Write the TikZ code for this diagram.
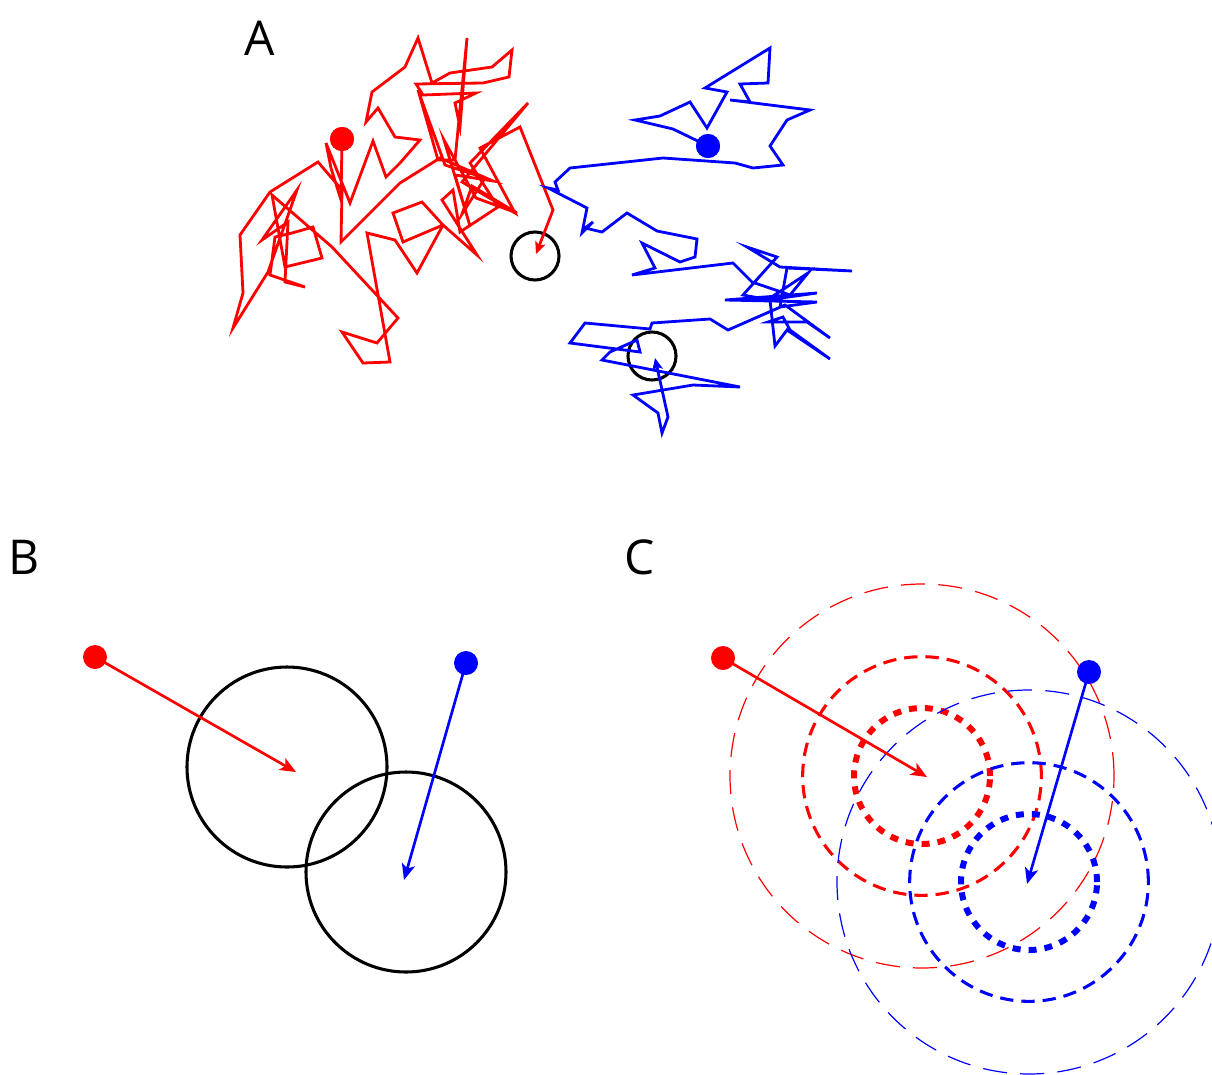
\documentclass[tikz,border=0pt]{standalone}
\usepackage{fontspec}
\setsansfont{Open Sans}
\usepackage{tikz}
\usetikzlibrary{arrows.meta}
\tikzset{
  panel/.style={font=\sffamily\fontsize{36}{40}\selectfont, inner sep=0pt},
  reddot/.style={circle, fill=red, inner sep=0pt, minimum size=18pt},
  bluedot/.style={circle, fill=blue, inner sep=0pt, minimum size=18pt},
  walk/.style={line width=2.1pt, -{Stealth[length=9pt,width=8pt,inset=2pt]}},
  jump/.style={line width=2pt, -{Stealth[length=12pt,width=10pt,inset=3pt]}},
  hitring/.style={circle, draw=black, line width=2.3pt, inner sep=0pt, minimum size=36pt},
  reach/.style={circle, draw=black, line width=2.3pt, inner sep=0pt, minimum size=150pt},
  ringfar/.style={circle, draw, line width=0.9pt, dash pattern=on 18pt off 10pt, inner sep=0pt, minimum size=288pt},
  ringmid/.style={circle, draw, line width=2.3pt, dash pattern=on 10pt off 6pt, inner sep=0pt, minimum size=179pt},
  ringnear/.style={circle, draw, line width=4.5pt, dash pattern=on 6pt off 6pt, inner sep=0pt, minimum size=102pt}
}
\begin{document}
\begin{tikzpicture}[x=0.75pt, y=-0.75pt]
  \useasboundingbox (0,0) rectangle (1212,1074);

  \node[panel] (labA) at (260,38) {A};
  \node[panel] (labB) at (24,557) {B};
  \node[panel] (labC) at (640,557) {C};

  % A: two walks until they come close
  \node[hitring] (ringAr) at (535,256) {};
  \node[hitring] (ringAb) at (652,356) {};
  \coordinate (tipAr) at (536,254);
  \coordinate (tipAb) at (655,358);
  \node[reddot] (dotAr) at (342,139) {};
  \node[bluedot] (dotAb) at (708,146) {};

  \draw[walk, red] (dotAr.center) \foreach \x/\y in {341/200,331/168,326/143,350/203,373/141,386/177,400/163,420/140,395/137,378/108,366/122,372/92,405/67,418/38,432/83,450/73,492/67,512/50,509/77,483/83,416/84,423/95,476/93,455/103,460/127,467/38,455/160,438/160,418/90,445/165,485/178,462/214,472/186,517/213,476/198,444/140,470/226,455/175,493/181,440/158,400/183,341/242,342/190,318/162,270/192,240/235,243/293,233/328,268/272,297/190,262/240,288/222,285/282,305/287,270/275,275/237,292/233,313/227,322/258,285/267,272/195,332/247,398/318,377/343,342/332,363/363,390/362,367/233,395/240,417/273,443/225,422/202,393/213,403/242,443/225,477/255,442/200,453/190,460/232,498/207,470/163,528/103,462/182,515/213,480/148,520/127,553/210} { -- (\x,\y) } -- (tipAr);

  \draw[walk, blue] (dotAb.center) \foreach \x/\y in {673/129,635/120,660/116,690/102,707/128,727/92,705/88,770/48,768/83,740/84,750/102,730/100,810/110,787/120,770/146,783/165,753/168,735/163,663/158,570/168,555/182,558/190,548/188,587/208,582/233,593/222,585/228,602/232,627/213,657/231,697/239,695/257,680/262,642/243,655/268,632/275,733/263,752/282,790/295,808/273,767/300,817/293,725/300,817/302,780/307,787/268,852/271,780/267,747/247,777/257,743/295,770/300,775/346,787/330,830/359,790/330,783/317,768/322,807/322,830/338,785/305,728/330,710/319,652/323,650/329,585/323,570/343,640/352,637/340,610/352,602/360,740/387,693/385,633/395,658/413,662/433,668/417} { -- (\x,\y) } -- (tipAb);
  \node[reddot] at (dotAr) {};
  \node[bluedot] at (dotAb) {};

  % B: one jump each
  \node[reach] (reachBr) at (287,767) {};
  \node[reach] (reachBb) at (406,872) {};
  \node[reddot] (dotBr) at (95,657) {};
  \node[bluedot] (dotBb) at (466,663) {};
  \coordinate (tipBr) at (296,772);
  \coordinate (tipBb) at (404,880);
  \draw[jump, red] (dotBr.center) -- (tipBr);
  \draw[jump, blue] (dotBb.center) -- (tipBb);

  % C: rings round the jump ends
  \node[ringfar, red] (farCr) at (922,776) {};
  \node[ringmid, red] (midCr) at (922,776) {};
  \node[ringnear, red] (nearCr) at (922,776) {};
  \node[ringfar, blue] (farCb) at (1029,882) {};
  \node[ringmid, blue] (midCb) at (1029,882) {};
  \node[ringnear, blue] (nearCb) at (1029,882) {};
  \node[reddot] (dotCr) at (723,658) {};
  \node[bluedot] (dotCb) at (1089,672) {};
  \coordinate (tipCr) at (927,777);
  \coordinate (tipCb) at (1027,884);
  \draw[jump, red] (dotCr.center) -- (tipCr);
  \draw[jump, blue] (dotCb.center) -- (tipCb);
\end{tikzpicture}
\end{document}
